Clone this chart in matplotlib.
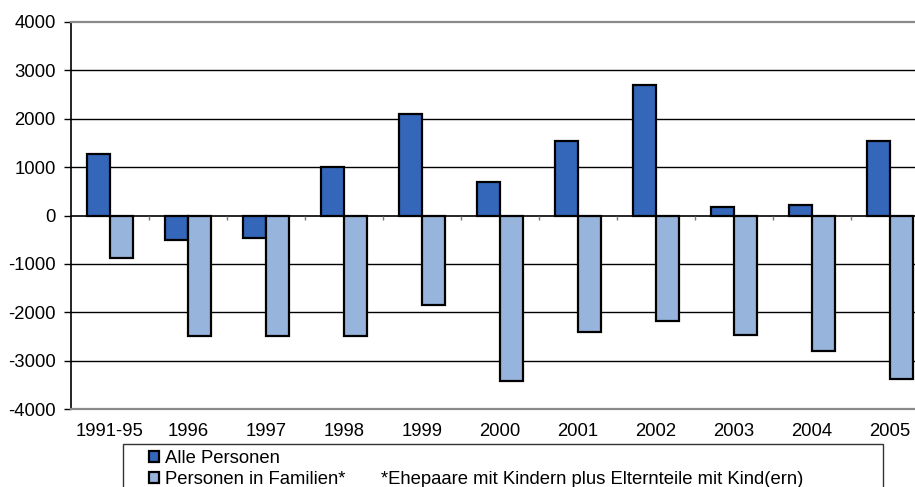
import matplotlib
matplotlib.use('Agg')
import matplotlib.pyplot as plt
from matplotlib.patches import Rectangle
import numpy as np

plt.rcParams['font.family'] = ['Liberation Sans', 'DejaVu Sans']
plt.rcParams['axes.unicode_minus'] = False

# Wanderungssaldo je Zeitraum
jahre = ['1991-95', '1996', '1997', '1998', '1999', '2000',
         '2001', '2002', '2003', '2004', '2005']
alle_personen = [1280, -500, -460, 1000, 2100, 700, 1530, 2690, 170, 210, 1530]
personen_familien = [-875, -2500, -2500, -2500, -1860, -3430, -2400, -2190, -2480, -2810, -3390]
fussnote = '*Ehepaare mit Kindern plus Elternteile mit Kind(ern)'

dunkel = '#3467BA'
hell = '#97B4DC'
fs = 13.3

fig = plt.figure(figsize=(9.15, 4.87), dpi=100)
ax = fig.add_axes([71 / 915, 1 - 409 / 487, 858 / 915, 387 / 487])

x = np.arange(len(jahre))
w = 0.295
b1 = ax.bar(x - w / 2, alle_personen, w, color=dunkel, edgecolor='black',
            linewidth=1.6, zorder=3, label='Alle Personen')
b2 = ax.bar(x + w / 2, personen_familien, w, color=hell, edgecolor='black',
            linewidth=1.6, zorder=3, label='Personen in Familien*')

ax.set_xlim(-0.5, len(jahre) - 0.5)
ax.set_ylim(-4000, 4000)
ax.set_yticks(range(-4000, 4001, 1000))
ax.tick_params(axis='y', length=5, width=1, labelsize=fs, pad=6)
ax.set_xticks(x)
ax.set_xticklabels(jahre, fontsize=fs)
ax.tick_params(axis='x', length=0, pad=10)

# Gitterlinien
for v in range(-3000, 3001, 1000):
    if v != 0:
        ax.axhline(v, color='black', linewidth=1, zorder=1)
ax.axhline(0, color='black', linewidth=1.2, zorder=4)

# Kategoriegrenzen als kleine Striche unter der Nulllinie
grenzen = np.arange(0.5, len(jahre) - 0.5, 1)
ax.vlines(grenzen, -90, 0, color='#777777', linewidth=1, zorder=4)

for s in ['top', 'bottom']:
    ax.spines[s].set_color('#8a8a8a')
    ax.spines[s].set_linewidth(1.6)
ax.spines['left'].set_color('black')
ax.spines['left'].set_linewidth(1.2)
ax.spines['right'].set_visible(False)

# Legende mit Rahmen, der unten aus dem Bild läuft
fig.patches.append(Rectangle((123 / 915, -0.05), 760 / 915, 0.05 + 1 - 444 / 487,
                             transform=fig.transFigure, fill=False,
                             edgecolor='#333333', linewidth=1))
fig.legend(handles=[b1, b2], loc='upper left', bbox_to_anchor=(149 / 915, 1 - 450 / 487),
           frameon=False, fontsize=fs, handlelength=0.55, handleheight=0.55,
           handletextpad=0.3, borderpad=0, borderaxespad=0, labelspacing=0.2)
fig.text(381 / 915, 1 - 479 / 487, fussnote, fontsize=fs, va='center', ha='left')

fig.savefig('out.png', dpi=100)
